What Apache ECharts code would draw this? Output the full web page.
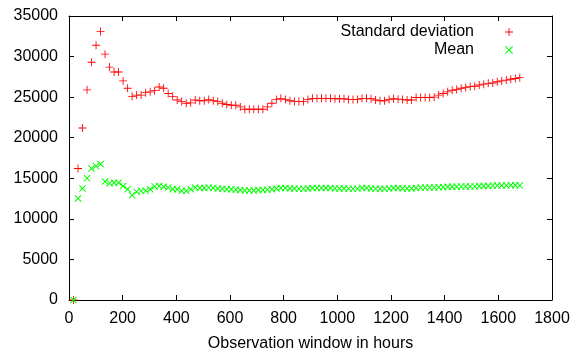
<!DOCTYPE html>
<html>
<head>
<meta charset="utf-8">
<script src="https://cdn.jsdelivr.net/npm/echarts@6/dist/echarts.min.js"></script>
<style>
  html, body { margin: 0; padding: 0; background: #fff; }
  #chart { width: 574px; height: 351px; }
</style>
</head>
<body>
<div id="chart"></div>
<script>
const hours = [
  16.8, 33.6, 50.4, 67.2, 84, 100.8, 117.6, 134.4, 151.2, 168,
  184.8, 201.6, 218.4, 235.2, 252, 268.8, 285.6, 302.4, 319.2, 336,
  352.8, 369.6, 386.4, 403.2, 420, 436.8, 453.6, 470.4, 487.2, 504,
  520.8, 537.6, 554.4, 571.2, 588, 604.8, 621.6, 638.4, 655.2, 672,
  688.8, 705.6, 722.4, 739.2, 756, 772.8, 789.6, 806.4, 823.2, 840,
  856.8, 873.6, 890.4, 907.2, 924, 940.8, 957.6, 974.4, 991.2, 1008,
  1024.8, 1041.6, 1058.4, 1075.2, 1092, 1108.8, 1125.6, 1142.4, 1159.2, 1176,
  1192.8, 1209.6, 1226.4, 1243.2, 1260, 1276.8, 1293.6, 1310.4, 1327.2, 1344,
  1360.8, 1377.6, 1394.4, 1411.2, 1428, 1444.8, 1461.6, 1478.4, 1495.2, 1512,
  1528.8, 1545.6, 1562.4, 1579.2, 1596, 1612.8, 1629.6, 1646.4, 1663.2, 1680
];

const stdDev = [
  0, 16200, 21200, 25900, 29300, 31400, 33100, 30300, 28700, 28100,
  28100, 27000, 26100, 25100, 25250, 25250, 25550, 25650, 25800, 26250,
  26100, 25450, 25100, 24650, 24450, 24250, 24300, 24650, 24550, 24550,
  24700, 24550, 24450, 24250, 24100, 24000, 24000, 23800, 23500, 23500,
  23500, 23500, 23500, 23800, 24250, 24700, 24850, 24700, 24550, 24450,
  24450, 24450, 24700, 24850, 24850, 24850, 24850, 24850, 24800, 24800,
  24800, 24700, 24700, 24700, 24850, 24850, 24800, 24650, 24550, 24550,
  24700, 24800, 24750, 24700, 24650, 24650, 24950, 24950, 24950, 24950,
  25000, 25250, 25450, 25650, 25850, 25950, 26100, 26200, 26300, 26350,
  26500, 26600, 26700, 26750, 26900, 27000, 27100, 27200, 27300, 27400
];

const mean = [
  0, 12500, 13750, 15000, 16200, 16500, 16750, 14600, 14400, 14450,
  14450, 14050, 13650, 12900, 13350, 13450, 13450, 13650, 14000, 14050,
  13950, 13850, 13650, 13650, 13450, 13450, 13650, 13850, 13800, 13800,
  13850, 13800, 13750, 13700, 13650, 13650, 13600, 13550, 13500, 13500,
  13500, 13550, 13550, 13600, 13650, 13750, 13800, 13800, 13750, 13750,
  13700, 13700, 13750, 13800, 13800, 13800, 13800, 13800, 13750, 13750,
  13750, 13700, 13700, 13700, 13800, 13800, 13750, 13700, 13700, 13700,
  13750, 13800, 13800, 13750, 13750, 13750, 13800, 13850, 13850, 13850,
  13850, 13900, 13900, 13950, 13950, 13950, 14000, 14000, 14000, 14000,
  14050, 14050, 14050, 14100, 14100, 14100, 14100, 14150, 14150, 14100
];

const seriesNames = ['Standard deviation', 'Mean'];
const xAxisName = 'Observation window in hours';

// gnuplot-style point types: thin filled plus and cross
const plusPath = 'path://M4.45,0H5.55V4.45H10V5.55H5.55V10H4.45V5.55H0V4.45H4.45Z';
const crossPath = 'path://M0,1L1,0L10,9L9,10Z M9,0L10,1L1,10L0,9Z';
const font = 'Liberation Sans, Arial, Helvetica, sans-serif';

function pairs(values) {
  return hours.map((h, i) => [h, values[i]]);
}

const chart = echarts.init(document.getElementById('chart'));

const baseX = {
  type: 'value',
  min: 0,
  max: 1800,
  interval: 200,
  splitLine: { show: false },
  axisLine: { show: true, onZero: false, lineStyle: { color: '#000', width: 1 } },
  axisTick: { show: true, inside: true, length: 5, lineStyle: { color: '#000' } },
};

const baseY = {
  type: 'value',
  min: 0,
  max: 35000,
  interval: 5000,
  splitLine: { show: false },
  axisLine: { show: true, onZero: false, lineStyle: { color: '#000', width: 1 } },
  axisTick: { show: true, inside: true, length: 5, lineStyle: { color: '#000' } },
};

chart.setOption({
  animation: false,
  backgroundColor: '#fff',
  textStyle: { fontFamily: font },
  grid: { left: 69, right: 22, top: 16, bottom: 51, outerBoundsMode: 'none', containLabel: false },
  legend: {
    orient: 'vertical',
    right: 56,
    top: 19,
    align: 'right',
    itemWidth: 8,
    itemHeight: 8,
    itemGap: 2,
    selectedMode: false,
    data: [
      { name: seriesNames[0], icon: plusPath },
      { name: seriesNames[1], icon: crossPath },
    ],
    formatter: '{a|{name}}{b|}',
    textStyle: {
      rich: {
        a: { fontSize: 16, lineHeight: 18, color: '#000', fontFamily: font, width: 200, align: 'right' },
        b: { width: 26 },
      },
    },
  },
  xAxis: [
    {
      ...baseX,
      position: 'bottom',
      name: xAxisName,
      nameLocation: 'middle',
      nameGap: 36,
      nameTextStyle: { fontSize: 16, color: '#000', fontFamily: font },
      axisLabel: { fontSize: 16, color: '#000', margin: 11, fontFamily: font, formatter: (v) => String(v) },
    },
    { ...baseX, position: 'top', axisLabel: { show: false } },
  ],
  yAxis: [
    {
      ...baseY,
      position: 'left',
      axisLabel: { fontSize: 16, color: '#000', margin: 11, fontFamily: font, formatter: (v) => String(v) },
    },
    { ...baseY, position: 'right', axisLabel: { show: false } },
  ],
  series: [
    {
      name: seriesNames[0],
      type: 'scatter',
      symbol: plusPath,
      symbolSize: 8,
      itemStyle: { color: '#ff0000', opacity: 1 },
      data: pairs(stdDev),
      z: 2,
    },
    {
      name: seriesNames[1],
      type: 'scatter',
      symbol: crossPath,
      symbolSize: 7,
      itemStyle: { color: '#00ff00', opacity: 1 },
      data: pairs(mean),
      z: 3,
    },
  ],
});
</script>
</body>
</html>
